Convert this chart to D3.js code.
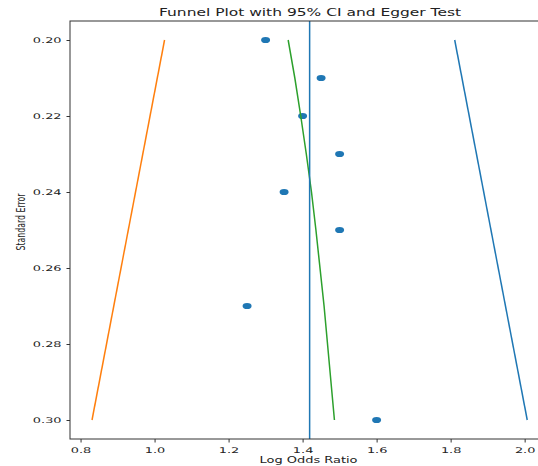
<!DOCTYPE html>
<html>
<head>
<meta charset="utf-8">
<script src="https://cdn.jsdelivr.net/npm/d3@7"></script>
<style>
  body { margin: 0; background: #fff; }
  text { font-family: "DejaVu Sans", sans-serif; fill: #222; }
</style>
</head>
<body>
<div class="chart"></div>
<script>
// study points
const log_or = [1.30, 1.45, 1.40, 1.50, 1.35, 1.50, 1.25, 1.60];
const std_err = [0.20, 0.21, 0.22, 0.23, 0.24, 0.25, 0.27, 0.30];

// funnel line endpoints (se at top / bottom)
const se_ends = [0.20, 0.30];
const ci_lower = [1.027, 0.831];
const ci_upper = [1.811, 2.007];
const pooled = 1.419;

// egger line, read at each study's se (it bends slightly)
const egger_se = [0.20, 0.21, 0.22, 0.23, 0.24, 0.25, 0.27, 0.30];
const egger_x = [1.361, 1.379, 1.395, 1.410, 1.424, 1.436, 1.458, 1.486];

const x_ticks = [0.8, 1.0, 1.2, 1.4, 1.6, 1.8, 2.0];
const y_ticks = [0.20, 0.22, 0.24, 0.26, 0.28, 0.30];

const width = 538, height = 466;
const m_left = 70, m_right = 550, m_top = 21, m_bottom = 439;
const stretch = 1.65; // the picture is squashed: text is wider than tall

const svg = d3.select(".chart")
    .append("svg")
    .attr("width", width)
    .attr("height", height);

const x = d3.scaleLinear().domain([0.7715, 2.0685]).range([m_left, m_right]);
const y = d3.scaleLinear().domain([0.195, 0.305]).range([m_top, m_bottom]);

const line = d3.line()
    .x(d => x(d[0]))
    .y(d => y(d[1]));

// widen text along its baseline
function widen(sel, k) {
    sel.each(function() {
        const len = this.getComputedTextLength();
        d3.select(this)
            .attr("textLength", len * k)
            .attr("lengthAdjust", "spacingAndGlyphs");
    });
}

// points
svg.append("g")
    .attr("fill", "#1f77b4")
    .selectAll("ellipse")
    .data(d3.zip(log_or, std_err))
    .join("ellipse")
    .attr("cx", d => x(d[0]))
    .attr("cy", d => y(d[1]))
    .attr("rx", 4.5)
    .attr("ry", 3.1);

// funnel + egger lines
const lines = [
    {pts: d3.zip(ci_lower, se_ends), color: "#ff7f0e"},
    {pts: d3.zip(ci_upper, se_ends), color: "#1f77b4"},
    {pts: d3.zip(egger_x, egger_se), color: "#2ca02c"},
];
svg.append("g")
    .selectAll("path")
    .data(lines)
    .join("path")
    .attr("fill", "none")
    .attr("stroke", d => d.color)
    .attr("stroke-width", 1.5)
    .attr("stroke-linejoin", "round")
    .attr("d", d => line(d.pts));

svg.append("line")
    .attr("x1", x(pooled))
    .attr("x2", x(pooled))
    .attr("y1", m_top)
    .attr("y2", m_bottom)
    .attr("stroke", "#1f77b4")
    .attr("stroke-width", 1.5);

// axes
const xAxis = svg.append("g")
    .attr("transform", `translate(0,${m_bottom})`)
    .call(d3.axisBottom(x).tickValues(x_ticks).tickFormat(d3.format(".1f")).tickSizeOuter(0).tickSize(3.5).tickPadding(5));

const yAxis = svg.append("g")
    .attr("transform", `translate(${m_left},0)`)
    .call(d3.axisLeft(y).tickValues(y_ticks).tickFormat(d3.format(".2f")).tickSizeOuter(0).tickSize(3.5).tickPadding(5));

[xAxis, yAxis].forEach(g => {
    g.select(".domain").remove();
    g.selectAll("line").attr("stroke", "#333");
    g.selectAll("text")
        .attr("font-family", "DejaVu Sans, sans-serif")
        .attr("font-size", "7.8px")
        .attr("fill", "#222")
        .call(widen, stretch);
});

// frame
svg.append("rect")
    .attr("x", m_left)
    .attr("y", m_top)
    .attr("width", m_right - m_left)
    .attr("height", m_bottom - m_top)
    .attr("fill", "none")
    .attr("stroke", "#333")
    .attr("stroke-width", 1);

// titles
svg.append("text")
    .attr("x", (m_left + m_right) / 2)
    .attr("y", 16)
    .attr("text-anchor", "middle")
    .attr("font-size", "10px")
    .attr("textLength", 302)
    .attr("lengthAdjust", "spacingAndGlyphs")
    .text("Funnel Plot with 95% CI and Egger Test");

svg.append("text")
    .attr("x", 308.5)
    .attr("y", 463)
    .attr("text-anchor", "middle")
    .attr("font-size", "8.5px")
    .attr("textLength", 98)
    .attr("lengthAdjust", "spacingAndGlyphs")
    .text("Log Odds Ratio");

svg.append("text")
    .attr("transform", `translate(25,222) scale(${stretch},1) rotate(-90)`)
    .attr("text-anchor", "middle")
    .attr("font-size", "7.8px")
    .text("Standard Error");
</script>
</body>
</html>
